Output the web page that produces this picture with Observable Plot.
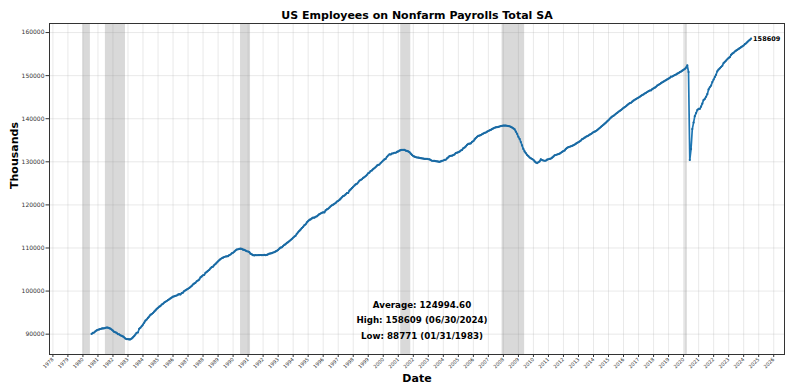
<!DOCTYPE html>
<html><head><meta charset="utf-8">
<script src="https://cdn.jsdelivr.net/npm/d3@7"></script>
<script src="https://cdn.jsdelivr.net/npm/@observablehq/plot@0.6"></script>
<style>html,body{margin:0;padding:0;background:#fff}</style>
</head><body><div id="chart"></div>
<script>
const chartTitle = "US Employees on Nonfarm Payrolls Total SA";
const xLabel = "Date";
const yLabel = "Thousands";
// month-end observations, first one 1980-07-31
const firstYear = 1980, firstMonth = 7;
const payrolls1980s = [
  90050, 90280, 90390, 90650, 90870, 91020,
  91100, 91200, 91290, 91330, 91360, 91440, 91540, 91500, 91400, 91270, 91060, 90800,
  90510, 90430, 90300, 90010, 89970, 89730, 89620, 89470, 89260, 88980, 88860, 88830,
  88771, 88790, 88970, 89250, 89530, 89900, 90320, 90380, 91220, 91490, 91840, 92210,
  92660, 93130, 93400, 93770, 94080, 94460, 94670, 94910, 95220, 95510, 95860, 96120,
  96380, 96520, 96860, 97050, 97320, 97500, 97700, 97900, 98090, 98300, 98490, 98690,
  98790, 98900, 98970, 99160, 99290, 99200, 99520, 99640, 99990, 100170, 100350, 100540,
  100710, 100950, 101190, 101520, 101750, 101920, 102270, 102450, 102680, 103170, 103390, 103670,
  103760, 104220, 104450, 104700, 104920, 105290, 105560, 105680, 106030, 106300, 106610, 106910,
  107180, 107420, 107620, 107740, 107910, 108020, 108060, 108110, 108360, 108490, 108770, 108900
];
const payrolls1990s = [
  109150, 109420, 109640, 109700, 109780, 109830, 109790, 109600, 109550, 109410, 109240, 109180,
  109020, 108690, 108540, 108320, 108290, 108360, 108310, 108330, 108360, 108370, 108320, 108350,
  108380, 108340, 108380, 108540, 108670, 108730, 108800, 108950, 109020, 109200, 109350, 109550,
  109830, 110080, 110160, 110450, 110700, 110880, 111180, 111350, 111580, 111850, 112090, 112380,
  112650, 112840, 113290, 113630, 113960, 114270, 114630, 114920, 115270, 115490, 115930, 116220,
  116530, 116640, 116850, 117040, 117020, 117250, 117340, 117600, 117850, 118000, 118150, 118280,
  118260, 118710, 118950, 119110, 119380, 119670, 119910, 120060, 120250, 120460, 120760, 120930,
  121160, 121450, 121750, 122040, 122170, 122440, 122740, 122770, 123290, 123580, 123890, 124200,
  124500, 124750, 124900, 125200, 125600, 125800, 125950, 126250, 126450, 126700, 126980, 127330,
  127500, 127870, 128000, 128300, 128530, 128770, 129100, 129280, 129380, 129720, 130010, 130300
];
const payrolls2000s = [
  130560, 130700, 131170, 131460, 131750, 131700, 131920, 131980, 132100, 132100, 132300, 132420,
  132600, 132690, 132780, 132800, 132750, 132600, 132520, 132400, 132230, 131900, 131600, 131330,
  131200, 131100, 131000, 130980, 130900, 130850, 130800, 130760, 130700, 130680, 130700, 130600,
  130580, 130400, 130250, 130220, 130200, 130150, 130120, 130060, 130000, 130100, 130220, 130310,
  130430, 130480, 130780, 131020, 131300, 131380, 131430, 131560, 131720, 132050, 132110, 132240,
  132380, 132620, 132760, 133140, 133300, 133560, 133930, 134140, 134200, 134280, 134630, 134800,
  135200, 135500, 135800, 136000, 136100, 136200, 136400, 136550, 136700, 136800, 137000, 137150,
  137300, 137400, 137600, 137750, 137900, 138000, 138050, 138100, 138200, 138300, 138350, 138400,
  138400, 138420, 138350, 138300, 138250, 138100, 137950, 137750, 137550, 137000, 136500, 135800,
  135300, 134600, 133800, 133000, 132400, 132000, 131600, 131300, 131000, 130800, 130650, 130450
];
const payrolls2010s = [
  130100, 129850, 129700, 129900, 130100, 130600, 130400, 130300, 130250, 130280, 130500, 130600,
  130700, 130750, 130950, 131200, 131500, 131580, 131700, 131800, 131900, 132100, 132300, 132500,
  132650, 133000, 133250, 133400, 133500, 133600, 133700, 133850, 134000, 134200, 134400, 134550,
  134750, 134950, 135250, 135400, 135600, 135800, 135950, 136100, 136300, 136450, 136650, 136900,
  137000, 137150, 137350, 137600, 137850, 138100, 138350, 138600, 138850, 139100, 139400, 139650,
  140000, 140250, 140500, 140650, 140900, 141150, 141350, 141600, 141800, 142000, 142250, 142500,
  142700, 142900, 143150, 143400, 143600, 143700, 143950, 144200, 144400, 144550, 144750, 144900,
  145100, 145300, 145500, 145650, 145850, 146000, 146200, 146400, 146550, 146600, 146850, 147050,
  147200, 147400, 147700, 147850, 148050, 148250, 148450, 148600, 148800, 148950, 149150, 149300,
  149500, 149750, 149800, 149950, 150150, 150250, 150450, 150600, 150800, 150950, 151150, 151350
];
const payrolls2020s = [
  151550, 151850, 152360, 150850, 130420, 132950, 137600, 139100, 140600, 141300, 142000, 142300,
  142300, 142800, 143500, 144300, 144600, 145100, 145700, 146800, 147300, 147700, 148500, 149100,
  149700, 150200, 151000, 151400, 151700, 152000, 152300, 152900, 153200, 153500, 153800, 154100,
  154300, 154800, 155100, 155300, 155600, 155800, 156000, 156200, 156400, 156600, 156800, 157000,
  157300, 157500, 157800, 158100, 158300, 158609
];
const recessionStarts = ["1980-01-01", "1981-07-01", "1990-07-01", "2001-03-01", "2007-12-01", "2020-02-01"];
const recessionEnds   = ["1980-07-01", "1982-11-01", "1991-03-01", "2001-11-01", "2009-06-01", "2020-04-01"];
const yTicks = [90000, 100000, 110000, 120000, 130000, 140000, 150000, 160000];
const xTickYears = d3.range(1978, 2027);
const statLines = ["Average: 124994.60", "High: 158609 (06/30/2024)", "Low: 88771 (01/31/1983)"];
const lastLabel = "158609";

const values = [...payrolls1980s, ...payrolls1990s, ...payrolls2000s, ...payrolls2010s, ...payrolls2020s];
const series = values.map((v, i) => ({date: new Date(Date.UTC(firstYear, firstMonth + i, 0)), value: v}));
const recessions = recessionStarts.map((s, i) => ({start: new Date(s + "T00:00:00Z"), end: new Date(recessionEnds[i] + "T00:00:00Z")}));
const xTicks = xTickYears.map(y => new Date(Date.UTC(y, 0, 1)));

// matplotlib-like 5% margins
const xmin = +recessions[0].start, xmax = +series[series.length - 1].date;
const xpad = (xmax - xmin) * 0.05;
const ymin = d3.min(values), ymax = d3.max(values);
const ypad = (ymax - ymin) * 0.05;

const blue = "#1f77b4";
const plot = Plot.plot({
  width: 800, height: 391,
  marginLeft: 49, marginRight: 16, marginTop: 23, marginBottom: 37,
  style: {fontFamily: "'DejaVu Sans', sans-serif", background: "#fff", color: "#000"},
  x: {type: "utc", domain: [new Date(xmin - xpad), new Date(xmax + xpad)]},
  y: {domain: [ymin - ypad, ymax + ypad]},
  marks: [
    Plot.gridX(xTicks, {stroke: "#b0b0b0", strokeOpacity: 0.35, strokeWidth: 0.8}),
    Plot.gridY(yTicks, {stroke: "#b0b0b0", strokeOpacity: 0.35, strokeWidth: 0.8}),
    Plot.rect(recessions, {x1: "start", x2: "end", fill: "#808080", fillOpacity: 0.3}),
    Plot.line(series, {x: "date", y: "value", stroke: blue, strokeWidth: 1.7}),
    Plot.dot(series, {x: "date", y: "value", r: 1.1, fill: "#1a6aa3"}),
    Plot.text(series.slice(-1), {x: "date", y: "value", text: () => lastLabel, textAnchor: "start", dx: 2, fontSize: 6.5, fontWeight: "bold", fill: "#000"}),
    Plot.text([statLines.join("\n")], {frameAnchor: "bottom", lineAnchor: "middle", dx: 5, dy: -36, fontSize: 8.7, fontWeight: "bold", lineHeight: 1.78, fill: "#000"}),
    Plot.axisX(xTicks, {tickFormat: "%Y", tickRotate: -45, fontSize: 5, tickSize: 3, tickPadding: 1, label: null, stroke: "#333", fill: "#333"}),
    Plot.axisY(yTicks, {tickFormat: d => String(d), fontSize: 6, tickSize: 3.5, tickPadding: 1.5, label: null, stroke: "#333", fill: "#333"}),
    Plot.frame({stroke: "#333", strokeWidth: 1}),
    Plot.text([chartTitle], {frameAnchor: "top", lineAnchor: "middle", dy: -8, fontSize: 11, fontWeight: "bold", fill: "#000"}),
    Plot.text([yLabel], {frameAnchor: "left", rotate: -90, lineAnchor: "middle", dx: -35.5, fontSize: 11, fontWeight: "bold", fill: "#000"}),
    Plot.text([xLabel], {frameAnchor: "bottom", lineAnchor: "middle", dy: 23.5, fontSize: 11, fontWeight: "bold", fill: "#000"})
  ]
});
document.getElementById("chart").appendChild(plot);
</script>
</body></html>
